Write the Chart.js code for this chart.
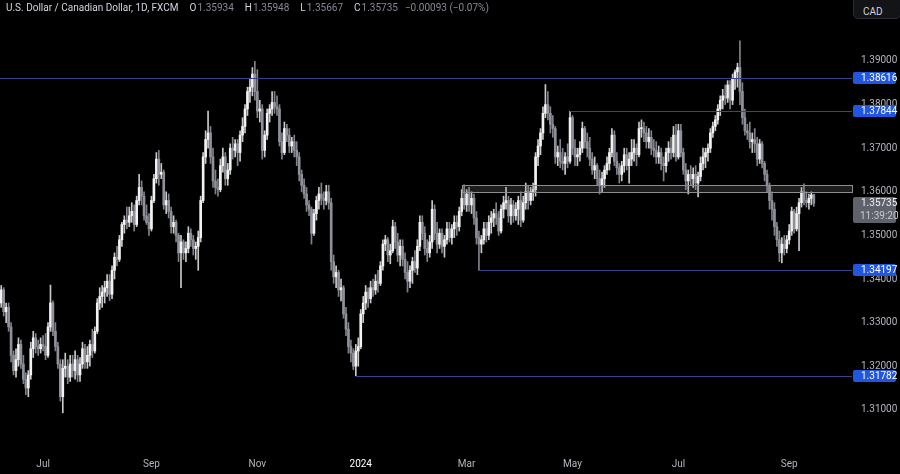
<!DOCTYPE html>
<html>
<head>
<meta charset="utf-8">
<script src="https://cdn.jsdelivr.net/npm/chart.js@4/dist/chart.umd.min.js"></script>
<style>
  html,body{margin:0;padding:0;background:#000;}
  #wrap{position:relative;width:900px;height:474px;background:#000;overflow:hidden;}
  canvas{position:absolute;left:0;top:0;}
  #hdr{position:absolute;left:6px;top:1px;font:10px Roboto,sans-serif;line-height:14px;color:#d1d4dc;white-space:nowrap;}
  #hdr .k{margin-left:11px;color:#d1d4dc;}
  #hdr .v{color:#868993;margin-left:1px;}
  #hdr .c{color:#868993;margin-left:7px;}
  #cad{position:absolute;left:853px;top:-4px;width:48px;height:23px;border:1px solid #2a2d35;border-radius:5px;background:#121417;box-sizing:border-box;font:10px Roboto,sans-serif;color:#d1d4dc;padding:9px 0 0 9px;}
</style>
</head>
<body>
<div id="wrap">
<canvas id="c" width="900" height="474"></canvas>
<div id="hdr"><span>U.S. Dollar / Canadian Dollar, 1D, FXCM</span><span class="k">O</span><span class="v">1.35934</span><span class="k">H</span><span class="v">1.35948</span><span class="k">L</span><span class="v">1.35667</span><span class="k">C</span><span class="v">1.35735</span><span class="c">−0.00093 (−0.07%)</span></div>
<div id="cad">CAD</div>
</div>
<script>
// ---- Data (daily USD/CAD candles) ----
const startDate = '2023-06-08';
const holidays = ['2023-12-25', '2024-01-01'];

const opens = [
1.3345,1.3375,1.3325,1.3335,1.3290,1.3225,1.3190,1.3215,1.3250,1.3205,
1.3170,1.3150,1.3180,1.3240,1.3265,1.3245,1.3240,1.3250,1.3245,1.3225,
1.3290,1.3345,1.3280,1.3245,1.3205,1.3130,1.3195,1.3200,1.3175,1.3205,
1.3190,1.3215,1.3180,1.3205,1.3240,1.3210,1.3225,1.3250,1.3235,1.3280,
1.3345,1.3360,1.3370,1.3380,1.3395,1.3365,1.3420,1.3450,1.3445,1.3490,
1.3525,1.3535,1.3530,1.3545,1.3555,1.3525,1.3580,1.3610,1.3590,1.3545,
1.3530,1.3515,1.3580,1.3630,1.3675,1.3640,1.3645,1.3570,1.3580,1.3555,
1.3520,1.3530,1.3500,1.3460,1.3485,1.3460,1.3470,1.3505,1.3490,1.3470,
1.3475,1.3495,1.3580,1.3680,1.3720,1.3735,1.3680,1.3625,1.3610,1.3605,
1.3660,1.3680,1.3630,1.3650,1.3700,1.3695,1.3710,1.3690,1.3730,1.3750,
1.3790,1.3830,1.3840,1.3870,1.3830,1.3785,1.3790,1.3695,1.3730,1.3780,
1.3790,1.3805,1.3795,1.3790,1.3715,1.3690,1.3745,1.3730,1.3705,1.3715,
1.3695,1.3680,1.3640,1.3615,1.3595,1.3570,1.3560,1.3505,1.3550,1.3580,
1.3595,1.3585,1.3580,1.3600,1.3575,1.3440,1.3405,1.3415,1.3375,1.3380,
1.3320,1.3285,1.3245,1.3230,1.3200,1.3235,1.3245,1.3320,1.3345,1.3370,
1.3355,1.3380,1.3375,1.3395,1.3390,1.3430,1.3480,1.3490,1.3455,1.3465,
1.3520,1.3485,1.3455,1.3475,1.3445,1.3415,1.3395,1.3420,1.3440,1.3425,
1.3475,1.3530,1.3505,1.3470,1.3460,1.3485,1.3560,1.3505,1.3480,1.3505,
1.3475,1.3490,1.3515,1.3495,1.3515,1.3530,1.3520,1.3555,1.3585,1.3570,
1.3595,1.3570,1.3585,1.3540,1.3495,1.3480,1.3490,1.3515,1.3500,1.3530,
1.3540,1.3550,1.3540,1.3510,1.3560,1.3575,1.3580,1.3545,1.3570,1.3545,
1.3560,1.3580,1.3535,1.3575,1.3600,1.3580,1.3600,1.3605,1.3680,1.3705,
1.3735,1.3780,1.3800,1.3780,1.3755,1.3745,1.3680,1.3690,1.3670,1.3665,
1.3680,1.3670,1.3770,1.3700,1.3680,1.3685,1.3700,1.3745,1.3715,1.3700,
1.3675,1.3650,1.3660,1.3630,1.3615,1.3630,1.3650,1.3665,1.3690,1.3730,
1.3670,1.3655,1.3640,1.3660,1.3685,1.3660,1.3675,1.3690,1.3700,1.3685,
1.3745,1.3745,1.3735,1.3715,1.3725,1.3700,1.3695,1.3680,1.3690,1.3665,
1.3660,1.3690,1.3700,1.3690,1.3730,1.3680,1.3740,1.3690,1.3650,1.3625,
1.3640,1.3630,1.3640,1.3620,1.3635,1.3665,1.3680,1.3690,1.3700,1.3735,
1.3750,1.3765,1.3790,1.3810,1.3820,1.3815,1.3845,1.3810,1.3860,1.3875,
1.3885,1.3830,1.3770,1.3740,1.3735,1.3715,1.3720,1.3710,1.3675,1.3710,
1.3665,1.3640,1.3615,1.3580,1.3560,1.3520,1.3490,1.3460,1.3480,1.3470,
1.3490,1.3510,1.3555,1.3515,1.3550,1.3575,1.3600,1.3580,1.3575,1.3585,
1.35934
];
const highs = [
1.3385,1.3380,1.3345,1.3345,1.3300,1.3235,1.3240,1.3265,1.3260,1.3225,
1.3185,1.3190,1.3255,1.3280,1.3275,1.3260,1.3265,1.3270,1.3275,1.3300,
1.3386,1.3350,1.3300,1.3255,1.3215,1.3215,1.3230,1.3215,1.3225,1.3225,
1.3235,1.3225,1.3220,1.3255,1.3250,1.3245,1.3260,1.3285,1.3290,1.3355,
1.3380,1.3385,1.3395,1.3410,1.3410,1.3430,1.3460,1.3475,1.3500,1.3530,
1.3545,1.3565,1.3565,1.3575,1.3570,1.3590,1.3640,1.3625,1.3600,1.3570,
1.3550,1.3590,1.3640,1.3690,1.3695,1.3665,1.3650,1.3600,1.3595,1.3565,
1.3545,1.3535,1.3505,1.3500,1.3490,1.3485,1.3520,1.3515,1.3500,1.3485,
1.3510,1.3590,1.3690,1.3740,1.3785,1.3750,1.3700,1.3650,1.3630,1.3675,
1.3700,1.3690,1.3665,1.3710,1.3725,1.3720,1.3720,1.3740,1.3770,1.3800,
1.3840,1.3860,1.3885,1.3899,1.3880,1.3810,1.3800,1.3740,1.3790,1.3800,
1.3830,1.3830,1.3820,1.3800,1.3735,1.3760,1.3755,1.3745,1.3725,1.3730,
1.3715,1.3690,1.3650,1.3630,1.3610,1.3580,1.3565,1.3560,1.3590,1.3610,
1.3620,1.3600,1.3615,1.3615,1.3585,1.3455,1.3430,1.3420,1.3400,1.3385,
1.3335,1.3300,1.3260,1.3240,1.3250,1.3265,1.3330,1.3360,1.3385,1.3380,
1.3395,1.3400,1.3410,1.3420,1.3440,1.3490,1.3500,1.3495,1.3480,1.3535,
1.3530,1.3505,1.3490,1.3490,1.3460,1.3440,1.3430,1.3450,1.3465,1.3490,
1.3545,1.3545,1.3520,1.3490,1.3500,1.3580,1.3570,1.3530,1.3515,1.3515,
1.3500,1.3530,1.3530,1.3525,1.3545,1.3545,1.3565,1.3605,1.3616,1.3605,
1.3610,1.3600,1.3595,1.3555,1.3510,1.3500,1.3530,1.3530,1.3545,1.3555,
1.3560,1.3575,1.3555,1.3570,1.3590,1.3610,1.3590,1.3585,1.3580,1.3575,
1.3590,1.3600,1.3590,1.3620,1.3615,1.3610,1.3620,1.3690,1.3720,1.3745,
1.3795,1.3846,1.3830,1.3795,1.3775,1.3750,1.3705,1.3720,1.3700,1.3690,
1.3710,1.37844,1.3775,1.3720,1.3700,1.3715,1.3760,1.3750,1.3735,1.3725,
1.3690,1.3680,1.3665,1.3650,1.3645,1.3660,1.3680,1.3700,1.3745,1.3740,
1.3690,1.3665,1.3670,1.3700,1.3700,1.3690,1.3720,1.3720,1.3710,1.3760,
1.3765,1.3760,1.3750,1.3745,1.3740,1.3720,1.3715,1.3705,1.3700,1.3680,
1.3700,1.3715,1.3725,1.3750,1.3755,1.3755,1.3755,1.3700,1.3665,1.3650,
1.3660,1.3655,1.3660,1.3645,1.3680,1.3700,1.3700,1.3710,1.3745,1.3760,
1.3775,1.3800,1.3820,1.3835,1.3845,1.3855,1.3855,1.3870,1.3880,1.3895,
1.3946,1.3850,1.3790,1.3755,1.3760,1.3735,1.3745,1.3725,1.3720,1.3715,
1.3670,1.3650,1.3620,1.3600,1.3575,1.3530,1.3510,1.3495,1.3500,1.3500,
1.3525,1.3565,1.3560,1.3565,1.3585,1.3610,1.3618,1.3600,1.3595,1.3600,
1.35948
];
const lows = [
1.3335,1.3315,1.3300,1.3280,1.3210,1.3180,1.3175,1.3200,1.3195,1.3160,
1.3135,1.3130,1.3170,1.3220,1.3230,1.3225,1.3230,1.3235,1.3215,1.3220,
1.3280,1.3270,1.3235,1.3195,1.3120,1.3093,1.3175,1.3160,1.3165,1.3175,
1.3170,1.3165,1.3165,1.3195,1.3195,1.3195,1.3200,1.3220,1.3230,1.3275,
1.3330,1.3335,1.3345,1.3360,1.3350,1.3355,1.3400,1.3430,1.3440,1.3475,
1.3505,1.3515,1.3520,1.3530,1.3510,1.3520,1.3570,1.3570,1.3535,1.3525,
1.3500,1.3510,1.3575,1.3620,1.3615,1.3630,1.3560,1.3550,1.3540,1.3505,
1.3505,1.3485,1.3440,1.3380,1.3445,1.3440,1.3460,1.3475,1.3455,1.3445,
1.3420,1.3485,1.3575,1.3665,1.3700,1.3665,1.3610,1.3595,1.3590,1.3600,
1.3645,1.3615,1.3615,1.3640,1.3675,1.3680,1.3660,1.3670,1.3715,1.3735,
1.3775,1.3805,1.3820,1.3810,1.3770,1.3760,1.3675,1.3680,1.3720,1.3760,
1.3775,1.3780,1.3775,1.3705,1.3675,1.3685,1.3715,1.3690,1.3690,1.3680,
1.3660,1.3625,1.3600,1.3585,1.3555,1.3545,1.3480,1.3500,1.3535,1.3560,
1.3570,1.3560,1.3570,1.3560,1.3420,1.3390,1.3380,1.3360,1.3350,1.3310,
1.3270,1.3230,1.3210,1.3192,1.31782,1.3200,1.3240,1.3300,1.3330,1.3335,
1.3345,1.3360,1.3365,1.3370,1.3385,1.3420,1.3465,1.3440,1.3435,1.3460,
1.3470,1.3440,1.3430,1.3430,1.3400,1.3370,1.3380,1.3390,1.3415,1.3410,
1.3465,1.3490,1.3455,1.3440,1.3450,1.3470,1.3490,1.3460,1.3470,1.3460,
1.3450,1.3480,1.3485,1.3480,1.3495,1.3500,1.3510,1.3545,1.3560,1.3555,
1.3555,1.3550,1.3525,1.3480,1.34197,1.3460,1.3480,1.3485,1.3490,1.3505,
1.3520,1.3525,1.3500,1.3505,1.3540,1.3560,1.3530,1.3525,1.3530,1.3535,
1.3525,1.3520,1.3530,1.3560,1.3560,1.3570,1.3580,1.3590,1.3660,1.3685,
1.3720,1.3770,1.3765,1.3735,1.3725,1.3665,1.3660,1.3655,1.3650,1.3640,
1.3655,1.3665,1.3685,1.3660,1.3660,1.3670,1.3690,1.3700,1.3680,1.3660,
1.3640,1.3630,1.3615,1.3595,1.3600,1.3610,1.3640,1.3650,1.3680,1.3660,
1.3640,1.3620,1.3625,1.3645,1.3650,1.3620,1.3660,1.3670,1.3660,1.3680,
1.3725,1.3715,1.3700,1.3700,1.3685,1.3680,1.3665,1.3665,1.3650,1.3625,
1.3645,1.3670,1.3675,1.3680,1.3670,1.3675,1.3680,1.3640,1.3605,1.3595,
1.3615,1.3610,1.3605,1.3588,1.3625,1.3650,1.3655,1.3670,1.3690,1.3725,
1.3740,1.3755,1.3775,1.3790,1.3800,1.3805,1.3790,1.3800,1.3835,1.3840,
1.3800,1.3755,1.3730,1.3720,1.3700,1.3690,1.3690,1.3660,1.3665,1.3655,
1.3625,1.3600,1.3560,1.3535,1.3500,1.3475,1.3440,1.3437,1.3455,1.3460,
1.3480,1.3500,1.3505,1.3510,1.3465,1.3565,1.3570,1.3565,1.3560,1.3570,
1.35667
];
const closes = [
1.3375,1.3325,1.3335,1.3290,1.3225,1.3190,1.3215,1.3250,1.3205,1.3170,
1.3150,1.3180,1.3240,1.3265,1.3245,1.3240,1.3250,1.3245,1.3225,1.3290,
1.3345,1.3280,1.3245,1.3205,1.3130,1.3195,1.3200,1.3175,1.3205,1.3190,
1.3215,1.3180,1.3205,1.3240,1.3210,1.3225,1.3250,1.3235,1.3280,1.3345,
1.3360,1.3370,1.3380,1.3395,1.3365,1.3420,1.3450,1.3445,1.3490,1.3525,
1.3535,1.3530,1.3545,1.3555,1.3525,1.3580,1.3610,1.3590,1.3545,1.3530,
1.3515,1.3580,1.3630,1.3675,1.3640,1.3645,1.3570,1.3580,1.3555,1.3520,
1.3530,1.3500,1.3460,1.3485,1.3460,1.3470,1.3505,1.3490,1.3470,1.3475,
1.3495,1.3580,1.3680,1.3720,1.3735,1.3680,1.3625,1.3610,1.3605,1.3660,
1.3680,1.3630,1.3650,1.3700,1.3695,1.3710,1.3690,1.3730,1.3750,1.3790,
1.3830,1.3840,1.3870,1.3830,1.3785,1.3790,1.3695,1.3730,1.3780,1.3790,
1.3805,1.3795,1.3790,1.3715,1.3690,1.3745,1.3730,1.3705,1.3715,1.3695,
1.3680,1.3640,1.3615,1.3595,1.3570,1.3560,1.3505,1.3550,1.3580,1.3595,
1.3585,1.3580,1.3600,1.3575,1.3440,1.3405,1.3415,1.3375,1.3380,1.3320,
1.3285,1.3245,1.3230,1.3200,1.3235,1.3245,1.3320,1.3345,1.3370,1.3355,
1.3380,1.3375,1.3395,1.3390,1.3430,1.3480,1.3490,1.3455,1.3465,1.3520,
1.3485,1.3455,1.3475,1.3445,1.3415,1.3395,1.3420,1.3440,1.3425,1.3475,
1.3530,1.3505,1.3470,1.3460,1.3485,1.3560,1.3505,1.3480,1.3505,1.3475,
1.3490,1.3515,1.3495,1.3515,1.3530,1.3520,1.3555,1.3585,1.3570,1.3595,
1.3570,1.3585,1.3540,1.3495,1.3480,1.3490,1.3515,1.3500,1.3530,1.3540,
1.3550,1.3540,1.3510,1.3560,1.3575,1.3580,1.3545,1.3570,1.3545,1.3560,
1.3580,1.3535,1.3575,1.3600,1.3580,1.3600,1.3605,1.3680,1.3705,1.3735,
1.3780,1.3800,1.3780,1.3755,1.3745,1.3680,1.3690,1.3670,1.3665,1.3680,
1.3670,1.3770,1.3700,1.3680,1.3685,1.3700,1.3745,1.3715,1.3700,1.3675,
1.3650,1.3660,1.3630,1.3615,1.3630,1.3650,1.3665,1.3690,1.3730,1.3670,
1.3655,1.3640,1.3660,1.3685,1.3660,1.3675,1.3690,1.3700,1.3685,1.3745,
1.3745,1.3735,1.3715,1.3725,1.3700,1.3695,1.3680,1.3690,1.3665,1.3660,
1.3690,1.3700,1.3690,1.3730,1.3680,1.3740,1.3690,1.3650,1.3625,1.3640,
1.3630,1.3640,1.3620,1.3635,1.3665,1.3680,1.3690,1.3700,1.3735,1.3750,
1.3765,1.3790,1.3810,1.3820,1.3815,1.3845,1.3810,1.3860,1.3875,1.3885,
1.3830,1.3770,1.3740,1.3735,1.3715,1.3720,1.3710,1.3675,1.3710,1.3665,
1.3640,1.3615,1.3580,1.3560,1.3520,1.3490,1.3460,1.3480,1.3470,1.3490,
1.3510,1.3555,1.3515,1.3550,1.3575,1.3600,1.3580,1.3575,1.3585,1.3593,
1.35735
];

// Price axis tick values
const priceTicks = [1.31, 1.32, 1.33, 1.34, 1.35, 1.36, 1.37, 1.38, 1.39];
// Horizontal levels (price) and the candle index where each one starts
const levelPrices = [1.38616, 1.37844, 1.34197, 1.31782];
const levelStarts = [0, 231, 194, 144];
// Grey zone
const zoneTop = 1.36163, zoneBottom = 1.35995, zoneStart = 187;
// Last price tag
const lastPrice = 1.35735, countdown = '11:39:20';
const emptySlots = 15;

// ---- Build labels (trading days) ----
const labels = [];
{
  const d = new Date(startDate + 'T12:00:00Z');
  while (labels.length < closes.length) {
    const iso = d.toISOString().slice(0, 10);
    const wd = d.getUTCDay();
    if (wd !== 0 && wd !== 6 && !holidays.includes(iso)) labels.push(iso);
    d.setUTCDate(d.getUTCDate() + 1);
  }
  for (let k = 0; k < emptySlots; k++) labels.push('');
}
const monthNames = ['Jan','Feb','Mar','Apr','May','Jun','Jul','Aug','Sep','Oct','Nov','Dec'];
function tickText(i) {
  const l = labels[i];
  if (!l || i === 0) return '';
  const prev = labels[i - 1];
  const m = +l.slice(5, 7);
  if (prev && prev.slice(5, 7) === l.slice(5, 7)) return '';
  if (m % 2 === 0) return '';
  if (m === 1) return l.slice(0, 4);
  return monthNames[m - 1];
}

const UP = '#f2f2f2', DOWN = '#8e9199';
const bodyColors = closes.map((c, i) => c >= opens[i] ? UP : DOWN);
const wickColors = closes.map((c, i) => c >= opens[i] ? '#c9c9c9' : '#80838b');

const annot = {
  id: 'annot',
  afterDatasetsDraw(chart) {
    const {ctx, chartArea: a, scales: {x, y}} = chart;
    ctx.save();
    // zone
    const zx = x.getPixelForValue(zoneStart);
    const zt = Math.round(y.getPixelForValue(zoneTop)) + 0.5;
    const zb = Math.round(y.getPixelForValue(zoneBottom)) + 0.5;
    ctx.fillStyle = 'rgba(130,130,130,0.22)';
    ctx.fillRect(zx, zt, a.right - zx, zb - zt);
    ctx.strokeStyle = '#8d8d8d';
    ctx.lineWidth = 1;
    ctx.strokeRect(Math.round(zx) + 0.5, zt, a.right - Math.round(zx), zb - zt);
    // levels
    ctx.strokeStyle = '#3a418f';
    levelPrices.forEach((p, k) => {
      const py = Math.round(y.getPixelForValue(p)) + 0.5;
      const sx = levelStarts[k] === 0 ? a.left : x.getPixelForValue(levelStarts[k]);
      ctx.beginPath();
      ctx.moveTo(sx, py);
      ctx.lineTo(a.right, py);
      ctx.stroke();
    });
    ctx.restore();
  },
  afterDraw(chart) {
    const {ctx, chartArea: a, scales: {y}} = chart;
    ctx.save();
    ctx.font = '10px Roboto, sans-serif';
    ctx.textBaseline = 'middle';
    ctx.textAlign = 'left';
    levelPrices.forEach(p => {
      const py = Math.round(y.getPixelForValue(p));
      ctx.fillStyle = '#2156e0';
      ctx.beginPath();
      ctx.roundRect(a.right + 1, py - 6, 43, 12, 2);
      ctx.fill();
      ctx.fillStyle = '#ffffff';
      ctx.fillText(p.toFixed(5), a.right + 9, py + 0.5);
    });
    // last price tag
    const ly = Math.round(y.getPixelForValue(lastPrice));
    ctx.fillStyle = '#5f626b';
    ctx.beginPath();
    ctx.roundRect(a.right + 1, ly - 6, 43, 26, 2);
    ctx.fill();
    ctx.fillStyle = '#f0f0f0';
    ctx.fillText(lastPrice.toFixed(5), a.right + 9, ly + 0.5);
    ctx.fillStyle = '#c8cad0';
    ctx.fillText(countdown, a.right + 8, ly + 13);
    ctx.restore();
  }
};

new Chart(document.getElementById('c'), {
  type: 'bar',
  data: {
    labels,
    datasets: [
      {
        label: 'Body',
        data: opens.map((o, i) => [o, closes[i]]),
        backgroundColor: bodyColors,
        barThickness: 2,
        minBarLength: 1,
        borderWidth: 0,
        grouped: false,
        order: 0
      },
      {
        label: 'Wick',
        data: lows.map((l, i) => [l, highs[i]]),
        backgroundColor: wickColors,
        barThickness: 1,
        borderWidth: 0,
        grouped: false,
        order: 1
      }
    ]
  },
  options: {
    responsive: false,
    animation: false,
    events: [],
    devicePixelRatio: 1,
    layout: {padding: 0},
    plugins: {legend: {display: false}, tooltip: {enabled: false}},
    scales: {
      x: {
        type: 'category',
        offset: true,
        grid: {display: false, drawTicks: false},
        border: {display: false},
        ticks: {
          autoSkip: false,
          maxRotation: 0,
          minRotation: 0,
          padding: 11,
          font: {family: 'Roboto', size: 10},
          color: (c) => (c.tick && c.tick.label === '2024') ? '#ffffff' : '#b2b5be',
          callback: (v, i) => tickText(i)
        },
        afterFit(s) { s.height = 27; s.paddingLeft = 0; s.paddingRight = 0; }
      },
      y: {
        position: 'right',
        min: 1.30147,
        max: 1.40399,
        grid: {display: false, drawTicks: false},
        border: {display: false},
        afterBuildTicks(s) { s.ticks = priceTicks.map(v => ({value: v})); },
        ticks: {
          padding: 9,
          font: {family: 'Roboto', size: 10},
          color: '#b2b5be',
          callback: (v) => Number(v).toFixed(5)
        },
        afterFit(s) { s.width = 48; s.paddingTop = 0; s.paddingBottom = 0; }
      }
    }
  },
  plugins: [annot]
});
</script>
</body>
</html>
